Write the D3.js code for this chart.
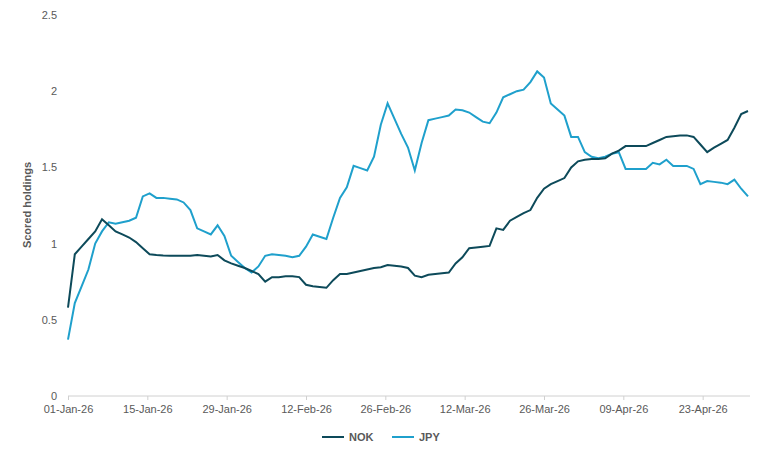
<!DOCTYPE html>
<html><head><meta charset="utf-8">
<script src="https://cdn.jsdelivr.net/npm/d3@7"></script>
<style>body{margin:0;background:#fff}svg{font-family:"Liberation Sans",Arial,sans-serif}</style>
</head><body><svg id="c" width="766" height="460"></svg>
<script>
const tickLabels=["01-Jan-26","15-Jan-26","29-Jan-26","12-Feb-26","26-Feb-26","12-Mar-26","26-Mar-26","09-Apr-26","23-Apr-26"];
const tickDays=[0,14,28,42,56,70,84,98,112];
const yTicks=[0,0.5,1,1.5,2,2.5];
const NOK=[.58,.93,.98,1.03,1.08,1.16,1.12,1.08,1.06,1.04,1.01,.97,.93,.925,.922,.92,.92,.92,.92,.925,.92,.915,.925,.89,.87,.855,.84,.82,.80,.75,.78,.78,.785,.785,.78,.73,.72,.715,.71,.76,.80,.80,.81,.82,.83,.84,.845,.86,.855,.85,.84,.79,.78,.795,.80,.805,.81,.87,.91,.97,.975,.98,.985,1.10,1.09,1.15,1.175,1.20,1.22,1.30,1.36,1.39,1.41,1.43,1.50,1.54,1.55,1.555,1.555,1.56,1.59,1.61,1.64,1.64,1.64,1.64,1.66,1.68,1.70,1.705,1.71,1.71,1.70,1.65,1.60,1.63,1.655,1.68,1.76,1.85,1.87];
const JPY=[.37,.61,.72,.83,1.0,1.08,1.14,1.13,1.14,1.15,1.17,1.31,1.33,1.30,1.30,1.295,1.29,1.27,1.22,1.10,1.08,1.06,1.12,1.05,.92,.88,.84,.81,.85,.92,.93,.925,.92,.91,.92,.98,1.06,1.045,1.03,1.17,1.30,1.37,1.51,1.495,1.48,1.57,1.78,1.92,1.82,1.72,1.63,1.48,1.66,1.81,1.82,1.83,1.84,1.88,1.875,1.86,1.83,1.80,1.79,1.86,1.96,1.98,2.00,2.01,2.06,2.13,2.09,1.92,1.88,1.84,1.70,1.70,1.60,1.57,1.56,1.57,1.59,1.60,1.49,1.49,1.49,1.49,1.53,1.52,1.55,1.51,1.51,1.51,1.49,1.39,1.41,1.405,1.40,1.39,1.42,1.36,1.31];
const svg=d3.select("#c");
// observation index -> calendar day (101 observations over 120 days)
const day=i=>i*120/(NOK.length-1);
const x=d3.scaleLinear().domain([0,120]).range([68,748]);
const y=d3.scaleLinear().domain([0,2.5]).range([396,15]);
const gray="#595959";
const xa=svg.append("g").attr("transform","translate(0,396)")
 .call(d3.axisBottom(x).tickValues(tickDays).tickFormat((d,i)=>tickLabels[i]).tickSize(4));
xa.select(".domain").attr("stroke","#d0d0d0").attr("d","M68,0H750");
xa.selectAll("line").attr("stroke","#d0d0d0");
xa.selectAll("text").attr("fill",gray).attr("font-size",11).attr("dy","0.9em");
const ya=svg.append("g").attr("transform","translate(68,0)")
 .call(d3.axisLeft(y).tickValues(yTicks).tickFormat(d3.format("")).tickSize(0).tickPadding(11));
ya.select(".domain").remove();
ya.selectAll("text").attr("fill",gray).attr("font-size",11);
svg.append("text").attr("transform","translate(31,205) rotate(-90)").attr("text-anchor","middle")
 .attr("fill",gray).attr("font-size",11).attr("font-weight","bold").text("Scored holdings");
const line=d3.line().x((d,i)=>x(day(i))).y(d=>y(d));
const series=[{n:"NOK",d:NOK,c:"#0d4a5a"},{n:"JPY",d:JPY,c:"#1fa0cc"}];
series.slice().reverse().forEach(s=>svg.append("path").datum(s.d).attr("d",line).attr("fill","none").attr("stroke",s.c).attr("stroke-width",2));
const lg=svg.append("g");
[[322,"NOK",series[0].c],[392,"JPY",series[1].c]].forEach(([lx,t,c])=>{
 lg.append("line").attr("x1",lx).attr("x2",lx+22).attr("y1",437).attr("y2",437).attr("stroke",c).attr("stroke-width",2);
 lg.append("text").attr("x",lx+27).attr("y",441).attr("fill",gray).attr("font-size",11).attr("font-weight","bold").text(t);
});
</script></body></html>
